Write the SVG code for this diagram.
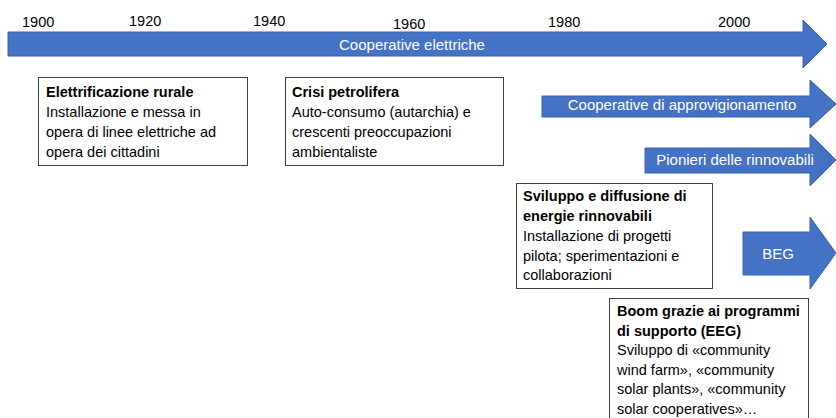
<svg xmlns="http://www.w3.org/2000/svg" width="836" height="418" viewBox="0 0 836 418">
<style>
.arr{fill:#4472C4;stroke:#3A62AD;stroke-width:1}
.box{fill:#fff;stroke:#3F3F3F;stroke-width:1}
.yr{font-family:"Liberation Sans",Arial,sans-serif;font-size:14.5px;fill:#000}
.at{font-family:"Liberation Sans",Arial,sans-serif;font-size:15px;fill:#fff;text-anchor:middle}
.t{font-family:"Liberation Sans",Arial,sans-serif;font-size:14.5px;fill:#000}
.b{font-weight:bold}
</style>
<rect width="836" height="418" fill="#fff"/>
<g id="years">
<text class="yr" x="22" y="27">1900</text>
<text class="yr" x="129" y="26">1920</text>
<text class="yr" x="253" y="26">1940</text>
<text class="yr" x="393" y="29">1960</text>
<text class="yr" x="548" y="27">1980</text>
<text class="yr" x="718" y="27">2000</text>
</g>
<g id="arrow-cooperative-elettriche">
<path class="arr" d="M8,32 H803 V20 L827,44 L803,68 V56 H8 Z"/>
<text class="at" x="412" y="50">Cooperative elettriche</text>
</g>
<g id="arrow-approvigionamento">
<path class="arr" d="M542,96 H810 V80 L836,104 L810,128 V117 H542 Z"/>
<text class="at" x="682" y="110">Cooperative di approvigionamento</text>
</g>
<g id="arrow-pionieri">
<path class="arr" d="M645,148 H810 V134 L836,160 L810,186 V173 H645 Z"/>
<text class="at" x="735" y="165">Pionieri delle rinnovabili</text>
</g>
<g id="arrow-beg">
<path class="arr" d="M743,232 H810 V217 L836,253 L810,289 V275 H743 Z"/>
<text class="at" x="778" y="259">BEG</text>
</g>
<g id="box-elettrificazione">
<rect class="box" x="38.5" y="77.5" width="209" height="88"/>
<text class="t" x="46" y="97"><tspan class="b">Elettrificazione rurale</tspan><tspan x="46" dy="20">Installazione e messa in</tspan><tspan x="46" dy="20">opera di linee elettriche ad</tspan><tspan x="46" dy="20">opera dei cittadini</tspan></text>
</g>
<g id="box-crisi">
<rect class="box" x="285.5" y="77.5" width="218" height="88"/>
<text class="t" x="292" y="97"><tspan class="b">Crisi petrolifera</tspan><tspan x="292" dy="20">Auto-consumo (autarchia) e</tspan><tspan x="292" dy="20">crescenti preoccupazioni</tspan><tspan x="292" dy="20">ambientaliste</tspan></text>
</g>
<g id="box-sviluppo">
<rect class="box" x="516.5" y="183.5" width="196" height="105"/>
<text class="t" x="523" y="201"><tspan class="b">Sviluppo e diffusione di</tspan><tspan x="523" dy="20" class="b">energie rinnovabili</tspan><tspan x="523" dy="20">Installazione di progetti</tspan><tspan x="523" dy="19.5">pilota; sperimentazioni e</tspan><tspan x="523" dy="19.5">collaborazioni</tspan></text>
</g>
<g id="box-boom">
<rect class="box" x="609.5" y="298.5" width="199" height="130"/>
<text class="t" x="617" y="316"><tspan class="b">Boom grazie ai programmi</tspan><tspan x="617" dy="19.6" class="b">di supporto (EEG)</tspan><tspan x="617" dy="19.6">Sviluppo di «community</tspan><tspan x="617" dy="19.6">wind farm», «community</tspan><tspan x="617" dy="19.6">solar plants», «community</tspan><tspan x="617" dy="19.6">solar cooperatives»…</tspan></text>
</g>
</svg>
